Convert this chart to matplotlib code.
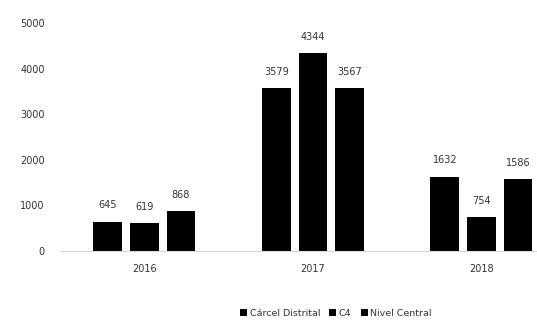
import numpy as np
import matplotlib.pyplot as plt

years = ["2016", "2017", "2018"]
series = ["Cárcel Distrital", "C4", "Nivel Central"]
carcel = [645, 3579, 1632]
c4 = [619, 4344, 754]
nivel = [868, 3567, 1586]

fig = plt.figure(figsize=(5.37, 3.21), dpi=100)
ax = fig.add_axes([60 / 537, 70 / 321, 477 / 537, 228 / 321])

x = np.arange(len(years))
width = 0.17
step = 0.217
txt = "#333333"

for i, (name, vals) in enumerate(zip(series, [carcel, c4, nivel])):
    pos = x + (i - 1) * step
    ax.bar(pos, vals, width, color="black", label=name)
    for p, v in zip(pos, vals):
        ax.annotate(str(v), (p, v), xytext=(0, 8), textcoords="offset points",
                    ha="center", va="bottom", fontsize=7, color=txt)

ax.set_xlim(-0.5, 2.33)
ax.set_ylim(0, 5000)
ax.set_yticks(range(0, 5001, 1000))
ax.set_xticks(x)
ax.set_xticklabels(years)

for s in ["top", "right", "left"]:
    ax.spines[s].set_visible(False)
ax.spines["bottom"].set_color("#d9d9d9")
ax.tick_params(axis="both", length=0, labelsize=7, labelcolor=txt)
ax.tick_params(axis="y", pad=11)
ax.tick_params(axis="x", pad=9)

handles, labels = ax.get_legend_handles_labels()
fig.legend(handles, labels, loc="center", bbox_to_anchor=(336 / 537, 1 - 313 / 321),
           ncol=3, frameon=False, fontsize=6.8, labelcolor=txt,
           handlelength=0.7, handleheight=0.7, handletextpad=0.3, columnspacing=1.0)

fig.savefig("out.png", dpi=100)
